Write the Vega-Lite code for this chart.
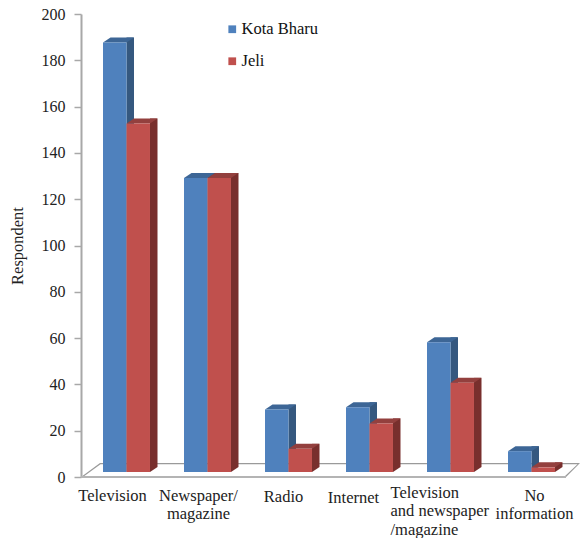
{
"$schema":"https://vega.github.io/schema/vega-lite/v6.json",
"width":486,"height":463,
"autosize":{"type":"none"},
"padding":{"left":86,"top":14,"right":8,"bottom":61},
"background":"white",
"config":{"view":{"stroke":null},"font":"Liberation Serif"},
"datasets":{"rows":[
{"category":"Television","series":"Kota Bharu","respondent":185.5},
{"category":"Television","series":"Jeli","respondent":150.5},
{"category":"Newspaper/|magazine","series":"Kota Bharu","respondent":127},
{"category":"Newspaper/|magazine","series":"Jeli","respondent":127},
{"category":"Radio","series":"Kota Bharu","respondent":27},
{"category":"Radio","series":"Jeli","respondent":10},
{"category":"Internet","series":"Kota Bharu","respondent":28},
{"category":"Internet","series":"Jeli","respondent":21},
{"category":"Television|and newspaper|/magazine","series":"Kota Bharu","respondent":56},
{"category":"Television|and newspaper|/magazine","series":"Jeli","respondent":38.5},
{"category":"No|information","series":"Kota Bharu","respondent":9},
{"category":"No|information","series":"Jeli","respondent":2}
]},
"data":{"name":"rows"},
"encoding":{
"x":{"field":"category","type":"nominal","sort":null,"title":null,
 "scale":{"paddingInner":0.42,"paddingOuter":0.21},
 "axis":{"domain":false,"ticks":false,"labelAngle":0,"labelFontSize":16.5,"labelColor":"#222222","labelPadding":10,"labelLimit":300,"labelLineHeight":18.5,"labelOverlap":false,"labelExpr":"split(datum.label,'|')",
  "encoding":{"labels":{
   "align":{"value":{"expr":"datum.value=='Television|and newspaper|/magazine'?'left':'center'"}},
   "dx":{"value":{"expr":"datum.value=='Television'?-14:datum.value=='Newspaper/|magazine'?-9:datum.value=='Radio'?-5:datum.value=='Internet'?-16:datum.value=='Television|and newspaper|/magazine'?-60:3"}},
   "dy":{"value":{"expr":"datum.value=='Radio'?1:datum.value=='Internet'?2:datum.value=='Television|and newspaper|/magazine'?-3:0"}}}}}},
"y":{"field":"respondent","type":"quantitative","title":"Respondent","scale":{"domain":[0,200],"nice":false},
   "axis":{"offset":5,"grid":false,"values":[0,20,40,60,80,100,120,140,160,180,200],"domainColor":"#a8a8a8","domainWidth":2,"tickColor":"#a8a8a8","tickWidth":1.5,"tickSize":7,"labelFontSize":16,"labelColor":"#222222","labelPadding":9,"titleFontSize":16.5,"titleFontWeight":"normal","titleColor":"#222222","titlePadding":16}}
},
"layer":[
{"transform":[{"filter":"datum.category=='Television'&&datum.series=='Jeli'"}],
 "mark":{"type":"point","filled":true,"opacity":1,"size":4,"fill":"#9a9a9a","clip":false,"shape":"M-45.5 0 L-26.5 -14 L453.5 -14 L439.5 0 L437.5 0 L451 -12.7 L-26 -12.7 L-43.5 0 Z"},
 "encoding":{"y":{"datum":0,"title":"Respondent","axis":{"offset":5,"grid":false,"values":[0,20,40,60,80,100,120,140,160,180,200],"domainColor":"#a8a8a8","domainWidth":2,"tickColor":"#a8a8a8","tickWidth":1.5,"tickSize":7,"labelFontSize":16,"labelColor":"#222222","labelPadding":9,"titleFontSize":16.5,"titleFontWeight":"normal","titleColor":"#222222","titlePadding":16}}}},
{"transform":[{"filter":"datum.category=='Television'&&datum.series=='Jeli'"}],
 "mark":{"type":"point","filled":true,"opacity":1,"size":4,"fill":"#b4b4b4","clip":false,"shape":"M-45.5 -1 L439.5 -1 L439.5 1 L-45.5 1 Z"},
 "encoding":{"y":{"datum":0,"title":"Respondent"}}},
{"mark":{"type":"bar","width":7.5,"xOffset":{"expr":"datum.series=='Jeli'?27.25:3.75"},"yOffset":-10,"y2Offset":-10},
 "encoding":{"y2":{"datum":0},
  "color":{"field":"series","type":"nominal","legend":null,"scale":{"domain":["Kota Bharu","Jeli"],"range":["#35587f","#782f2d"]}}}},
{"mark":{"type":"point","filled":true,"opacity":1,"size":4,"yOffset":-5,"shape":"M11.75 0 L19.25 -5 L11.75 -5 Z"},
 "encoding":{"xOffset":{"field":"series","type":"nominal","sort":["Kota Bharu","Jeli"],"scale":{"domain":["Kota Bharu","Jeli"],"paddingInner":0,"paddingOuter":0}},"y":{"datum":0,"title":"Respondent"},"fill":{"field":"series","type":"nominal","legend":null,"scale":{"domain":["Kota Bharu","Jeli"],"range":["#35587f","#782f2d"]}}}},
{"mark":{"type":"point","filled":true,"opacity":1,"size":4,"yOffset":-5,"shape":"M-11.75 0 L11.75 0 L19.25 -5 L-4.25 -5 Z"},
 "encoding":{"xOffset":{"field":"series","type":"nominal","sort":["Kota Bharu","Jeli"],"scale":{"domain":["Kota Bharu","Jeli"],"paddingInner":0,"paddingOuter":0}},"fill":{"field":"series","type":"nominal","legend":null,"scale":{"domain":["Kota Bharu","Jeli"],"range":["#3d6696","#93403e"]}}}},
{"mark":{"type":"bar","yOffset":-5,"y2Offset":-5},
 "encoding":{"xOffset":{"field":"series","type":"nominal","sort":["Kota Bharu","Jeli"],"scale":{"domain":["Kota Bharu","Jeli"],"paddingInner":0,"paddingOuter":0}},"y2":{"datum":0},
  "color":{"field":"series","type":"nominal","title":null,
   "scale":{"domain":["Kota Bharu","Jeli"],"range":["#4f81bd","#c0504d"]},
   "legend":{"orient":"none","legendX":138,"legendY":7,"symbolType":"square","symbolSize":60,"symbolStrokeWidth":0,"labelFontSize":16.5,"labelColor":"#111111","rowPadding":15,"labelOffset":1}}}}
],
"resolve":{"scale":{"color":"independent","fill":"independent"}}
}
